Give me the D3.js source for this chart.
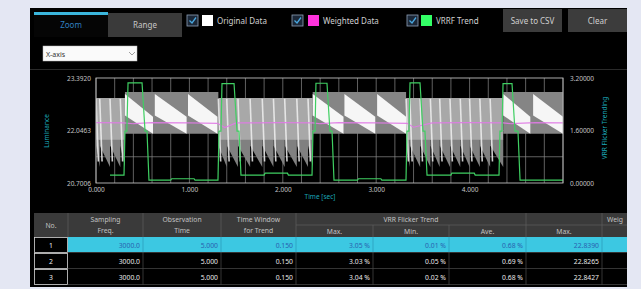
<!DOCTYPE html>
<html><head><meta charset="utf-8">
<script src="https://cdn.jsdelivr.net/npm/d3@7"></script>
<style>
html,body{margin:0;padding:0;background:#e4e7f3;}
svg{display:block;font-family:"Noto Sans","Open Sans",sans-serif;}
</style></head><body>
<svg id="c" width="641" height="289"></svg>
<script>
// ---------- data ----------
const xTicks = [0, 1, 2, 3, 4];
const yLeftTicks = [20.7006, 22.0463, 23.3920];
const yRightTicks = [0, 1.6, 3.2];

// original data: envelope of the dense luminance signal
const envTime = [0, 0.31, 0.31, 1.31, 1.31, 2.32, 2.32, 3.32, 3.32, 4.36, 4.36, 5.0];
const envHigh = [22.88, 22.88, 23.03, 23.03, 22.88, 22.88, 23.03, 23.03, 22.88, 22.88, 23.03, 23.03];
const envLow  = [21.80, 21.80, 21.96, 21.96, 21.80, 21.80, 21.96, 21.96, 21.80, 21.80, 21.96, 21.96];

// fast sawtooth teeth (high-frequency parts)
const toothTime = [0.00, 0.04, 0.15, 0.26,
                   1.31, 1.40, 1.52, 1.65, 1.78, 1.90, 2.02, 2.15, 2.27,
                   3.32, 3.36, 3.47, 3.58, 3.68, 3.79, 3.90, 4.00, 4.11, 4.22];
const toothEnd  = [0.04, 0.15, 0.26, 0.31,
                   1.40, 1.52, 1.65, 1.78, 1.90, 2.02, 2.15, 2.27, 2.32,
                   3.36, 3.47, 3.58, 3.68, 3.79, 3.90, 4.00, 4.11, 4.22, 4.36];
const toothLumStart = 21.66;
const toothLumEnd = 21.11;

// slow ramps (white wedges)
const wedgeStart = [0.31, 0.63, 0.985, 2.32, 2.66, 3.01, 4.36, 4.68];
const wedgeEnd   = [0.61, 0.97, 1.30, 2.65, 2.99, 3.32, 4.65, 5.00];
const wedgeTopStart = [22.98, 22.98, 22.98, 22.98, 22.98, 22.98, 22.98, 22.98];
const wedgeTopEnd   = [22.40, 22.40, 22.40, 22.40, 22.40, 22.40, 22.40, 22.40];
const wedgeBand = 0.55;

// weighted data
const weightedTime = [0, 0.30, 0.40, 0.60, 1.00, 1.30, 1.38, 1.50, 2.00, 2.32, 2.40, 2.60, 3.00, 3.33, 3.40, 3.60, 4.00, 4.36, 4.45, 4.70, 5.0];
const weightedLum  = [22.25, 22.24, 22.22, 22.25, 22.24, 22.23, 22.12, 22.24, 22.25, 22.24, 22.22, 22.25, 22.24, 22.23, 22.13, 22.24, 22.25, 22.24, 22.22, 22.25, 22.24];

// VRRF trend
const trendTime = [0.15,0.30,0.31,0.33,0.343,0.493,0.525,0.546,0.567,0.80,0.81,1.05,1.06,1.306,1.317,1.338,1.349,1.478,1.510,1.531,1.552,1.80,1.81,2.05,2.06,2.313,2.323,2.345,2.355,2.473,2.505,2.527,2.548,2.80,2.81,3.05,3.06,3.319,3.330,3.351,3.362,3.469,3.501,3.522,3.544,3.80,3.81,4.05,4.06,4.315,4.325,4.347,4.358,4.454,4.486,4.518,4.540,5.0];
const trendValue = [0.24,0.24,1.58,1.58,3.05,3.05,1.58,1.58,0.09,0.09,0.13,0.13,0.09,0.09,1.58,1.58,3.03,3.03,1.58,1.58,0.24,0.24,0.30,0.30,0.24,0.24,1.58,1.58,3.04,3.04,1.58,1.58,0.09,0.09,0.13,0.13,0.09,0.09,1.58,1.58,3.05,3.05,1.58,1.58,0.24,0.24,0.30,0.30,0.24,0.24,1.58,1.58,3.03,3.03,1.58,1.58,0.09,0.09];

// table
const tableNo = ["1", "2", "3"];
const samplingFreq = ["3000.0", "3000.0", "3000.0"];
const obsTime = ["5.000", "5.000", "5.000"];
const timeWindow = ["0.150", "0.150", "0.150"];
const vrrMax = ["3.05 %", "3.03 %", "3.04 %"];
const vrrMin = ["0.01 %", "0.05 %", "0.02 %"];
const vrrAve = ["0.68 %", "0.69 %", "0.68 %"];
const weightedMax = ["22.8390", "22.8265", "22.8427"];

// ---------- drawing ----------
const svg = d3.select("#c");
const defs = svg.append("defs");

// app panel
svg.append("rect").attr("x", 30).attr("y", 8).attr("width", 597).attr("height", 279).attr("fill", "#000");

// tabs
svg.append("rect").attr("x", 108).attr("y", 13).attr("width", 74).attr("height", 24).attr("fill", "#3a3a3a");
svg.append("rect").attr("x", 34).attr("y", 13).attr("width", 74).attr("height", 24).attr("fill", "#050505");
svg.append("rect").attr("x", 34).attr("y", 12).attr("width", 74).attr("height", 3).attr("fill", "#3bb6dc");
svg.append("text").attr("x", 71).attr("y", 28).attr("text-anchor", "middle").attr("font-size", 8).attr("fill", "#2f7fc0").text("Zoom");
svg.append("text").attr("x", 145).attr("y", 28).attr("text-anchor", "middle").attr("font-size", 8).attr("fill", "#c8c8c8").text("Range");

// legend
const legend = [
  {cx: 187, sx: 202, color: "#ffffff", label: "Original Data"},
  {cx: 292, sx: 308, color: "#ff33dd", label: "Weighted Data"},
  {cx: 407, sx: 421, color: "#33ff66", label: "VRRF Trend"}
];
legend.forEach(l => {
  svg.append("rect").attr("x", l.cx).attr("y", 15).attr("width", 11).attr("height", 11)
    .attr("fill", "#1c2838").attr("stroke", "#8fa0b8").attr("stroke-width", 0.8);
  svg.append("path").attr("d", `M${l.cx+2.5},${20.5} L${l.cx+5},${23} L${l.cx+9},${17.5}`)
    .attr("fill", "none").attr("stroke", "#4aa8e0").attr("stroke-width", 1.3);
  svg.append("rect").attr("x", l.sx).attr("y", 15).attr("width", 11).attr("height", 11).attr("fill", l.color);
  svg.append("text").attr("x", l.sx + 15).attr("y", 23.5).attr("font-size", 8).attr("fill", "#d0d0d0").text(l.label);
});

// buttons
[{x: 503, label: "Save to CSV"}, {x: 568, label: "Clear"}].forEach(b => {
  svg.append("rect").attr("x", b.x).attr("y", 9).attr("width", 59).attr("height", 23).attr("fill", "#3c3c3c");
  svg.append("text").attr("x", b.x + 29.5).attr("y", 23.5).attr("text-anchor", "middle").attr("font-size", 8).attr("fill", "#d0d0d0").text(b.label);
});

// dropdown
svg.append("rect").attr("x", 43).attr("y", 46).attr("width", 94).attr("height", 15).attr("fill", "#fafafa").attr("stroke", "#bbb").attr("stroke-width", 0.5);
svg.append("text").attr("x", 46).attr("y", 56.5).attr("font-size", 7).attr("fill", "#333").text("X-axis");
svg.append("path").attr("d", "M129,52 L132,55 L135,52").attr("fill", "none").attr("stroke", "#888").attr("stroke-width", 0.8);

// separator
svg.append("line").attr("x1", 30).attr("x2", 627).attr("y1", 69.5).attr("y2", 69.5).attr("stroke", "#2a2a2a");

// ---------- chart ----------
const x = d3.scaleLinear().domain([0, 5]).range([96, 563]);
const yL = d3.scaleLinear().domain([20.7006, 23.3920]).range([183, 78]);
const yR = d3.scaleLinear().domain([0, 3.2]).range([183, 78]);

const plot = svg.append("g");
defs.append("clipPath").attr("id", "plotclip").append("rect")
  .attr("x", 96).attr("y", 78).attr("width", 467).attr("height", 105);

// grid
const gridX = d3.range(0, 5.0001, 0.2);
plot.append("g").selectAll("line").data(gridX).join("line")
  .attr("x1", d => x(d)).attr("x2", d => x(d)).attr("y1", 78).attr("y2", 183)
  .attr("stroke", "#8a8a8a").attr("stroke-width", 0.7);
plot.append("g").selectAll("line").data([0.8, 1.6, 2.4]).join("line")
  .attr("x1", 96).attr("x2", 563).attr("y1", d => yR(d)).attr("y2", d => yR(d))
  .attr("stroke", "#8a8a8a").attr("stroke-width", 0.7);

const data = plot.append("g").attr("clip-path", "url(#plotclip)");

// original: envelope, drawn per segment (pairs of points)
for (let i = 0; i < envTime.length; i += 2) {
  const pts = [0, 1].map(k => ({t: envTime[i + k], hi: envHigh[i + k], lo: envLow[i + k]}));
  const slow = envHigh[i] > 22.95;
  data.append("path").datum(pts)
    .attr("d", d3.area().x(d => x(d.t)).y0(d => yL(d.lo)).y1(d => yL(d.hi)))
    .attr("fill", slow ? "#858585" : "#a8a8a8");
}

// original: lower sawtooth parts
toothTime.forEach((t, i) => {
  const pts = [{t: t, lo: toothLumStart}, {t: toothEnd[i], lo: toothLumEnd}];
  data.append("path").datum(pts)
    .attr("d", d3.area().x(d => x(d.t)).y0(d => yL(d.lo)).y1(yL(21.81)))
    .attr("fill", "#808080");
});
// bright streaks of the teeth
data.append("g").selectAll("line").data(toothTime).join("line")
  .attr("x1", d => x(d)).attr("y1", yL(22.86))
  .attr("x2", d => x(d + 0.025)).attr("y2", yL(21.25))
  .attr("stroke", "#f0f0f0").attr("stroke-width", 1.6).attr("opacity", 0.85);

// wedges
wedgeStart.forEach((s, i) => {
  const pts = [{t: s, hi: wedgeTopStart[i]}, {t: wedgeEnd[i], hi: wedgeTopEnd[i]}];
  data.append("path").datum(pts)
    .attr("d", d3.area().x(d => x(d.t)).y0(d => yL(Math.max(d.hi - wedgeBand, 21.96))).y1(d => yL(d.hi)))
    .attr("fill", "#f6f6f6");
});

// weighted
data.append("path").datum(weightedTime.map((t, i) => [t, weightedLum[i]]))
  .attr("d", d3.line().x(d => x(d[0])).y(d => yL(d[1])))
  .attr("fill", "none").attr("stroke", "#e07ae6").attr("stroke-width", 1.2).attr("opacity", 0.9);

// trend
data.append("path").datum(trendTime.map((t, i) => [t, trendValue[i]]))
  .attr("d", d3.line().x(d => x(d[0])).y(d => yR(d[1])))
  .attr("fill", "none").attr("stroke", "#3fcf62").attr("stroke-width", 1.2);

// frame
plot.append("rect").attr("x", 96).attr("y", 78).attr("width", 467).attr("height", 105)
  .attr("fill", "none").attr("stroke", "#bdbdbd").attr("stroke-width", 0.9);

// axes
const ax = svg.append("g").attr("transform", "translate(0,190)")
  .call(d3.axisBottom(x).tickValues(xTicks).tickFormat(d3.format(".3f")).tickSize(0).tickPadding(0));
const ayl = svg.append("g").attr("transform", "translate(91,0)")
  .call(d3.axisLeft(yL).tickValues(yLeftTicks).tickFormat(d3.format(".4f")).tickSize(0).tickPadding(0));
const ayr = svg.append("g").attr("transform", "translate(570,0)")
  .call(d3.axisRight(yR).tickValues(yRightTicks).tickFormat(d3.format(".5f")).tickSize(0).tickPadding(0));
[ax, ayl, ayr].forEach(g => {
  g.select(".domain").remove();
  g.selectAll("text").attr("fill", "#c4c4c4").attr("font-size", 6.5).attr("font-family", "Noto Sans, sans-serif");
});
ax.selectAll("text").attr("dy", "0.35em");

svg.append("text").attr("transform", "translate(49,131) rotate(-90)").attr("text-anchor", "middle")
  .attr("font-size", 6.5).attr("fill", "#1aa6b8").text("Luminance");
svg.append("text").attr("transform", "translate(607,128) rotate(-90)").attr("text-anchor", "middle")
  .attr("font-size", 6.5).attr("fill", "#1aa6b8").text("VRR Flicker Trending");
svg.append("text").attr("x", 320).attr("y", 199).attr("text-anchor", "middle")
  .attr("font-size", 6.5).attr("fill", "#1aa6b8").text("Time [sec]");

// ---------- table ----------
const cols = [34, 68, 143, 221, 296, 373, 449, 526, 602, 627];
const hTop = 213, hMid = 225, hBot = 237;
const rowTops = [237, 253, 269];
const rowH = 16;
const tbl = svg.append("g");
tbl.append("rect").attr("x", 34).attr("y", hTop).attr("width", 593).attr("height", hBot - hTop).attr("fill", "#3a3a3a");
const hdrColor = "#c2c2c2";
const hdr = (xc, y, t) => tbl.append("text").attr("x", xc).attr("y", y).attr("text-anchor", "middle")
  .attr("font-size", 6.8).attr("fill", hdrColor).text(t);
hdr((cols[0] + cols[1]) / 2, 228, "No.");
hdr((cols[1] + cols[2]) / 2, 222, "Sampling");
hdr((cols[1] + cols[2]) / 2, 233, "Freq.");
hdr((cols[2] + cols[3]) / 2, 222, "Observation");
hdr((cols[2] + cols[3]) / 2, 233, "Time");
hdr((cols[3] + cols[4]) / 2, 222, "Time Window");
hdr((cols[3] + cols[4]) / 2, 233, "for Trend");
hdr((cols[4] + cols[7]) / 2, 222, "VRR Flicker Trend");
hdr((cols[4] + cols[5]) / 2, 234, "Max.");
hdr((cols[5] + cols[6]) / 2, 234, "Min.");
hdr((cols[6] + cols[7]) / 2, 234, "Ave.");
hdr((cols[7] + cols[8]) / 2, 234, "Max.");
tbl.append("text").attr("x", 607).attr("y", 222).attr("font-size", 6.8).attr("fill", hdrColor).text("Weig");
// header separators
const sepC = "#5e5e5e";
tbl.append("line").attr("x1", cols[4]).attr("x2", 627).attr("y1", hMid).attr("y2", hMid).attr("stroke", sepC).attr("stroke-width", 0.7);
cols.slice(1, 9).forEach(c => {
  const top = (c === 373 || c === 449) ? hMid : hTop;
  tbl.append("line").attr("x1", c).attr("x2", c).attr("y1", top).attr("y2", hBot).attr("stroke", sepC).attr("stroke-width", 0.7);
});

// rows
const rowVals = tableNo.map((n, i) => [samplingFreq[i], obsTime[i], timeWindow[i], vrrMax[i], vrrMin[i], vrrAve[i], weightedMax[i]]);
rowVals.forEach((vals, r) => {
  const y0 = rowTops[r];
  const sel = r === 0;
  tbl.append("rect").attr("x", 68).attr("y", y0).attr("width", 559).attr("height", rowH - 1)
    .attr("fill", sel ? "#3cc8e2" : "#000");
  tbl.append("rect").attr("x", 34.5).attr("y", y0 + 0.5).attr("width", 33).attr("height", rowH - 1)
    .attr("fill", "#000").attr("stroke", "#d8d8d8").attr("stroke-width", 0.8);
  tbl.append("text").attr("x", 51).attr("y", y0 + 10.5).attr("text-anchor", "middle")
    .attr("font-size", 6.8).attr("fill", "#f0f0f0").text(tableNo[r]);
  vals.forEach((v, c) => {
    tbl.append("text").attr("x", cols[c + 2] - 3).attr("y", y0 + 10.5).attr("text-anchor", "end")
      .attr("font-size", 6.8).attr("fill", sel ? "#2a62b0" : "#e8e8e8").text(v);
  });
  cols.slice(2, 9).forEach(c => {
    tbl.append("line").attr("x1", c).attr("x2", c).attr("y1", y0).attr("y2", y0 + rowH)
      .attr("stroke", sel ? "#2a9ab8" : "#4a4a4a").attr("stroke-width", 0.7);
  });
  tbl.append("line").attr("x1", 68).attr("x2", 627).attr("y1", y0 + rowH - 0.5).attr("y2", y0 + rowH - 0.5)
    .attr("stroke", "#4a4a4a").attr("stroke-width", 0.7);
});
</script>
</body></html>
